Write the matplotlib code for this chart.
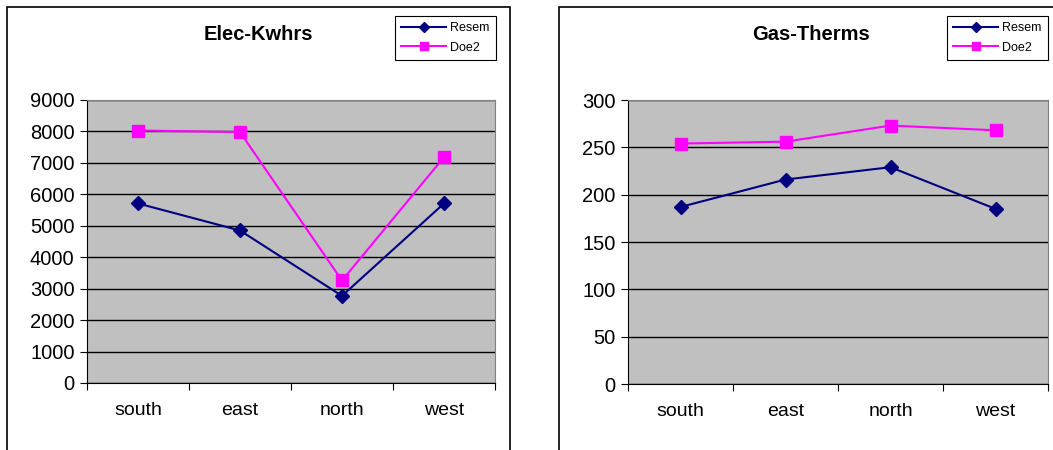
import matplotlib.pyplot as plt
from matplotlib.patches import Rectangle
from matplotlib.ticker import MultipleLocator

plt.rcParams['font.family'] = ['Liberation Sans', 'DejaVu Sans']

# DATA
directions = ["south", "east", "north", "west"]
elec_resem = [5710, 4850, 2770, 5710]
elec_doe2 = [8030, 7980, 3260, 7180]
gas_resem = [187, 216, 229, 185]
gas_doe2 = [254, 256, 273, 268]

W, H = 1053, 450
fig = plt.figure(figsize=(W / 100, H / 100), dpi=100)


def px_axes(x0, y0, x1, y1):
    # pixel box (top-left origin) -> figure axes
    return fig.add_axes([x0 / W, 1 - y1 / H, (x1 - x0) / W, (y1 - y0) / H])


def draw_panel(ax, resem, doe2, title, ymax, step, title_x, box, leg_box):
    x = [i + 0.5 for i in range(len(directions))]
    ax.set_facecolor("#c0c0c0")
    ax.plot(x, resem, color="#000080", lw=1.5, marker="D", ms=7, label="Resem", zorder=3)
    ax.plot(x, doe2, color="#ff00ff", lw=1.5, marker="s", ms=8, label="Doe2", zorder=3)
    ax.set_xlim(0, len(directions))
    ax.set_ylim(0, ymax)
    ax.yaxis.set_major_locator(MultipleLocator(step))
    ax.grid(axis="y", color="black", lw=1)
    ax.set_axisbelow(True)
    ax.set_xticks(range(len(directions) + 1))
    ax.set_xticklabels([])
    ax.set_xticks(x, minor=True)
    ax.set_xticklabels(directions, minor=True, fontsize=14)
    ax.tick_params(axis="x", which="minor", length=0, pad=14)
    ax.tick_params(axis="x", which="major", length=5, direction="out")
    ax.tick_params(axis="y", labelsize=14.5, length=5, pad=4)
    for s in ["top", "right"]:
        ax.spines[s].set_color("#808080")
    for s in ["left", "bottom"]:
        ax.spines[s].set_color("black")

    fig.text(title_x / W, 1 - 35 / H, title, fontsize=14.5, fontweight="bold",
             ha="center", va="center")
    fig.patches.append(Rectangle((box[0] / W, -0.05), (box[1] - box[0]) / W,
                                 1 - 7 / H + 0.05, transform=fig.transFigure,
                                 fill=False, edgecolor="black", lw=1.2))
    lx0, ly0, lx1, ly1 = leg_box
    leg = ax.legend(loc="upper left", bbox_to_anchor=(lx0 / W, 1 - ly0 / H),
                    bbox_transform=fig.transFigure, fontsize=9, frameon=True,
                    fancybox=False, edgecolor="black", framealpha=1,
                    handlelength=3.6, borderpad=0.5, labelspacing=0.6,
                    handletextpad=0.3, markerscale=0.7, borderaxespad=0)
    leg.get_frame().set_linewidth(0.8)


ax1 = px_axes(87, 100, 495, 383)
draw_panel(ax1, elec_resem, elec_doe2, "Elec-Kwhrs", 9000, 1000, 258,
           (7, 510), (395, 16, 498, 63))

ax2 = px_axes(628, 100, 1048, 384)
draw_panel(ax2, gas_resem, gas_doe2, "Gas-Therms", 300, 50, 811,
           (559, 1060), (947, 16, 1049, 63))

fig.savefig("out.png", dpi=100)
